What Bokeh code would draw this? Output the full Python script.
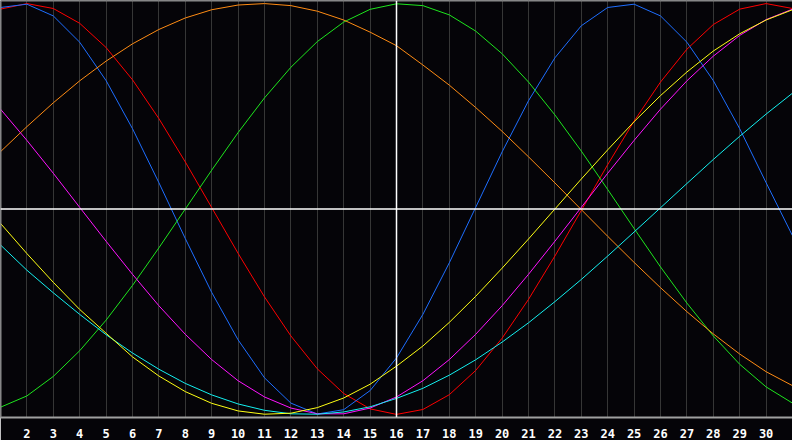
from bokeh.plotting import figure
from bokeh.models import Range1d, FixedTicker, Span
from bokeh.embed import file_html
from bokeh.resources import INLINE

# day of month shown along the bottom
days = list(range(1, 32))
tick_days = list(range(2, 31))
today = 16

# cycle values per day (-1 .. +1)
physical = [0.981, 0.997, 0.940, 0.812, 0.625, 0.391, 0.128, -0.144, -0.406, -0.637,
            -0.822, -0.945, -0.998, -0.977, -0.884, -0.725, -0.513, -0.262, 0.008, 0.278,
            0.527, 0.736, 0.892, 0.981, 0.997, 0.940, 0.812, 0.625, 0.391, 0.128, -0.130]
emotional = [0.973, 1.000, 0.976, 0.904, 0.786, 0.629, 0.440, 0.229, 0.007, -0.216,
             -0.428, -0.618, -0.778, -0.898, -0.973, -1.000, -0.976, -0.904, -0.786, -0.629,
             -0.440, -0.229, -0.007, 0.216, 0.428, 0.618, 0.778, 0.898, 0.973, 1.000, 0.976]
intellectual = [-0.965, -0.910, -0.815, -0.690, -0.541, -0.372, -0.189, 0.000, 0.189, 0.372,
                0.541, 0.690, 0.815, 0.910, 0.972, 0.999, 0.990, 0.945, 0.866, 0.756,
                0.618, 0.458, 0.282, 0.095, -0.095, -0.282, -0.458, -0.618, -0.756, -0.866, -0.945]
awareness = [0.279, 0.401, 0.517, 0.624, 0.720, 0.804, 0.874, 0.930, 0.970, 0.993,
             1.000, 0.990, 0.963, 0.920, 0.861, 0.795, 0.701, 0.603, 0.494, 0.378,
             0.254, 0.127, -0.003, -0.133, -0.260, -0.383, -0.500, -0.608, -0.706, -0.792, -0.860]
intuitive = [0.486, 0.334, 0.174, 0.008, -0.157, -0.318, -0.471, -0.610, -0.733, -0.836,
             -0.915, -0.969, -0.997, -0.997, -0.969, -0.915, -0.836, -0.733, -0.610, -0.471,
             -0.318, -0.157, 0.008, 0.174, 0.334, 0.486, 0.624, 0.744, 0.845, 0.922, 0.973]
aesthetic = [-0.070, -0.217, -0.357, -0.489, -0.605, -0.720, -0.813, -0.889, -0.946, -0.983,
             -0.999, -0.994, -0.967, -0.920, -0.853, -0.765, -0.667, -0.552, -0.425, -0.288,
             -0.146, 0.000, 0.146, 0.288, 0.425, 0.552, 0.667, 0.769, 0.853, 0.920, 0.970]
spiritual = [-0.175, -0.298, -0.408, -0.513, -0.612, -0.701, -0.780, -0.849, -0.905, -0.949,
             -0.980, -0.997, -0.999, -0.988, -0.963, -0.922, -0.873, -0.809, -0.734, -0.648,
             -0.554, -0.451, -0.343, -0.229, -0.112, 0.006, 0.124, 0.241, 0.354, 0.462, 0.564]

series = [
    (emotional, "#ff0000"),
    (physical, "#1e6eff"),
    (intellectual, "#1ee61e"),
    (awareness, "#ff8c14"),
    (intuitive, "#ff14ff"),
    (spiritual, "#14f0f0"),
    (aesthetic, "#ffff14"),
]

bg = "#050408"
p = figure(width=792, height=440, x_range=Range1d(1, 31), y_range=Range1d(-1.015, 1.015),
           output_backend="svg", toolbar_location=None,
           background_fill_color=bg, border_fill_color=bg, min_border=0)
p.min_border_left = 0
p.min_border_right = 0
p.min_border_top = 0
p.outline_line_color = None
p.yaxis.visible = False
p.ygrid.visible = False

p.xaxis.ticker = FixedTicker(ticks=tick_days)
p.xgrid.grid_line_color = "#363636"
p.xgrid.grid_line_width = 1
p.xaxis.axis_line_color = "#a0a0a0"
p.xaxis.axis_line_width = 2
p.xaxis.major_tick_line_color = None
p.xaxis.minor_tick_line_color = None
p.xaxis.major_label_text_color = "white"
p.xaxis.major_label_text_font = "DejaVu Sans Mono"
p.xaxis.major_label_text_font_style = "bold"
p.xaxis.major_label_text_font_size = "12px"
p.xaxis.major_label_standoff = 5

# frame edges on the left and top
p.add_layout(Span(location=1, dimension="height", line_color="#8c8c8c", line_width=2))
p.add_layout(Span(location=1.015, dimension="width", line_color="#8c8c8c", line_width=2))

# zero line and today marker
p.add_layout(Span(location=0, dimension="width", line_color="white", line_width=1.5))
p.add_layout(Span(location=today, dimension="height", line_color="white", line_width=1.5))

for vals, col in series:
    p.line(days, vals, line_color=col, line_width=1)

open("out.html", "w").write(file_html(p, INLINE))
